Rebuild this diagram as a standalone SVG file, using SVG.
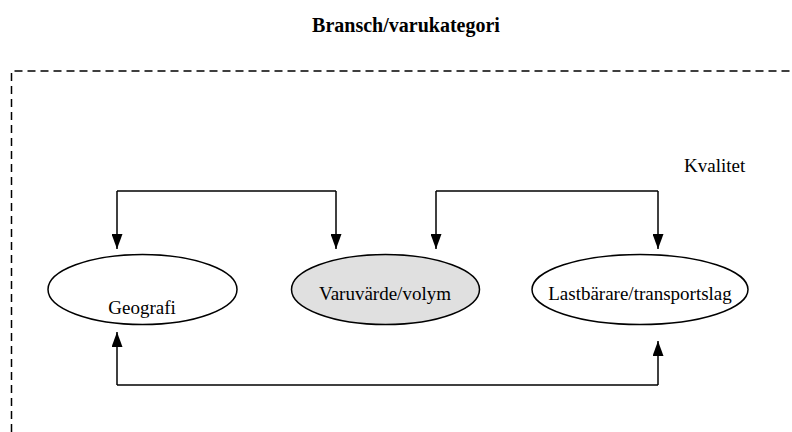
<svg xmlns="http://www.w3.org/2000/svg" width="792" height="432" viewBox="0 0 792 432">
  <style>
    .lbl { font-family: "Liberation Serif", "Times New Roman", serif; font-size: 19px; fill: #000; }
    .title { font-family: "Liberation Serif", "Times New Roman", serif; font-size: 20px; font-weight: bold; fill: #000; }
    .node { stroke: #000; stroke-width: 1.5; }
    .conn { fill: none; stroke: #000; stroke-width: 1.5; }
  </style>
  <defs>
    <marker id="arrow" viewBox="0 0 15 11" refX="15" refY="5.5" markerWidth="15" markerHeight="11" markerUnits="userSpaceOnUse" orient="auto">
      <path d="M0,0 L15,5.5 L0,11 z" fill="#000"/>
    </marker>
  </defs>
  <rect width="792" height="432" fill="#fff"/>

  <text class="title" x="406" y="32" text-anchor="middle">Bransch/varukategori</text>

  <!-- dashed frame, open to the right and below -->
  <path d="M11.5,432 L11.5,71 L792,71" fill="none" stroke="#000" stroke-width="1.5" stroke-dasharray="8,5"/>

  <text class="lbl" x="684" y="172">Kvalitet</text>

  <g id="geografi">
    <ellipse class="node" cx="142.5" cy="289.5" rx="94.5" ry="35" fill="#fff"/>
    <text class="lbl" x="142" y="314" text-anchor="middle">Geografi</text>
  </g>
  <g id="varuvarde">
    <ellipse class="node" cx="385.5" cy="289.5" rx="94" ry="35" fill="#e0e0e0"/>
    <text class="lbl" x="385" y="300" text-anchor="middle">Varuvärde/volym</text>
  </g>
  <g id="lastbarare">
    <ellipse class="node" cx="640" cy="289.5" rx="108" ry="35" fill="#fff"/>
    <text class="lbl" x="640" y="300" text-anchor="middle">Lastbärare/transportslag</text>
  </g>

  <g id="connectors">
    <path class="conn" d="M117,191 L336,191"/>
    <path class="conn" d="M117,191 L117,249" marker-end="url(#arrow)"/>
    <path class="conn" d="M336,191 L336,249" marker-end="url(#arrow)"/>
    <path class="conn" d="M436,191 L658,191"/>
    <path class="conn" d="M436,191 L436,249" marker-end="url(#arrow)"/>
    <path class="conn" d="M658,191 L658,249" marker-end="url(#arrow)"/>
    <path class="conn" d="M117,385 L658,385"/>
    <path class="conn" d="M117,385 L117,332" marker-end="url(#arrow)"/>
    <path class="conn" d="M658,385 L658,341" marker-end="url(#arrow)"/>
  </g>
</svg>
